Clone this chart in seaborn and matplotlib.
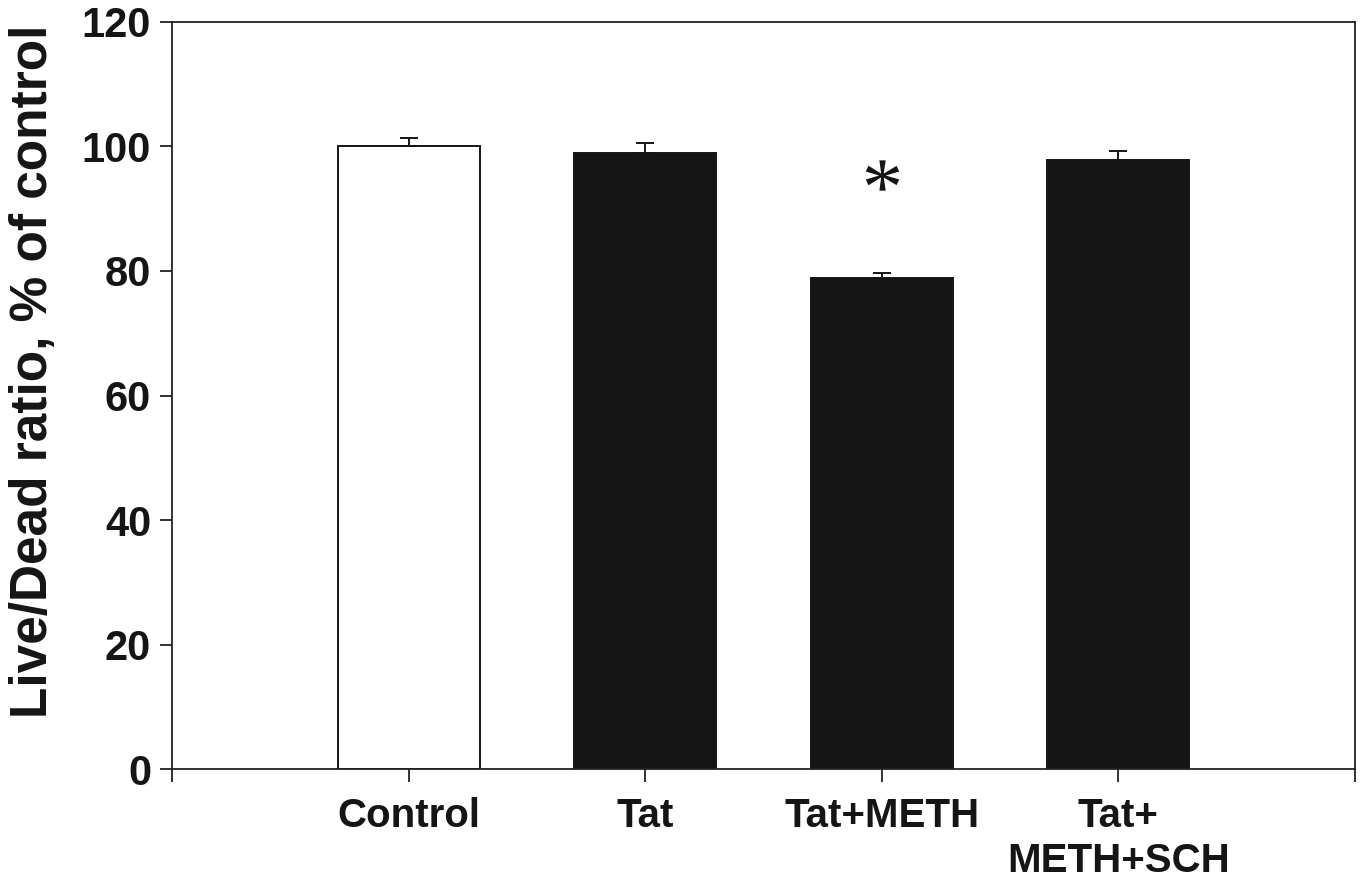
import matplotlib
matplotlib.use("Agg")
import matplotlib.pyplot as plt
import seaborn as sns
import pandas as pd
from matplotlib.textpath import TextPath
from matplotlib.font_manager import FontProperties
from matplotlib.path import Path

# Treatment groups and measured live/dead ratio (% of control)
groups = ["Control", "Tat", "Tat+METH", "Tat+\nMETH+SCH"]
means = [100.0, 99.0, 78.8, 97.8]
sems = [1.3, 1.5, 0.9, 1.5]
fills = ["#ffffff", "#151515", "#151515", "#151515"]
sig_group = 2
sig_y = 95.4

sns.set_theme(style="white")
plt.rcParams["font.family"] = ["Liberation Sans", "DejaVu Sans"]
plt.rcParams["font.weight"] = "bold"

df = pd.DataFrame({"group": groups, "ratio": means})

fig = plt.figure(figsize=(13.63, 8.80), dpi=100)
ax = fig.add_axes([0.1262, 0.1258, 0.8679, 0.8495])

sns.barplot(data=df, x="group", y="ratio", hue="group", palette=fills,
            legend=False, width=0.6, edgecolor="#151515", linewidth=1.4,
            errorbar=None, ax=ax, saturation=1)

# upper-only error bars
ax.errorbar(range(len(groups)), means, yerr=[[0] * len(sems), sems],
            fmt="none", ecolor="#151515", elinewidth=1.4, capsize=6.5,
            capthick=1.4, zorder=5)

# significance asterisk, drawn as a glyph-shaped marker centred on its ink
star = TextPath((0, 0), "*", size=10,
                prop=FontProperties(family="Liberation Serif", weight="normal"))
ink = star.get_extents()
verts = star.vertices.copy()
verts[:, 0] -= (ink.x0 + ink.x1) / 2
verts[:, 1] -= (ink.y0 + ink.y1) / 2
verts[star.codes == Path.CLOSEPOLY] = 0
star_marker = Path(verts, star.codes)
ax.plot([sig_group], [sig_y], marker=star_marker, markersize=24,
        color="#151515", markeredgewidth=0, linestyle="none", zorder=6)

ax.set_xlim(-1, 4)
ax.set_ylim(0, 120)
ax.set_yticks([0, 20, 40, 60, 80, 100, 120])
ax.set_xticks([-1, 0, 1, 2, 3, 4])
ax.set_xticklabels([""] + groups + [""])
ax.tick_params(axis="both", direction="out", length=9, width=1.3,
               color="#222222", labelcolor="#151515")
ax.tick_params(axis="y", labelsize=30, pad=6, left=True)
ax.tick_params(axis="x", labelsize=29, pad=11, bottom=True)
for lbl in ax.get_xticklabels() + ax.get_yticklabels():
    lbl.set_fontweight("bold")
for lbl in ax.get_xticklabels():
    lbl.set_linespacing(1.22)
    lbl.set_verticalalignment("top")

ax.set_xlabel("")
ax.set_ylabel("Live/Dead ratio, % of control", fontsize=37,
              fontweight="bold", color="#151515")
ax.yaxis.set_label_coords(-0.096, 0.532)

for side in ["left", "right", "top", "bottom"]:
    ax.spines[side].set_visible(True)
    ax.spines[side].set_color("#222222")
    ax.spines[side].set_linewidth(1.3)

fig.savefig("out.png", dpi=100, facecolor="white")
